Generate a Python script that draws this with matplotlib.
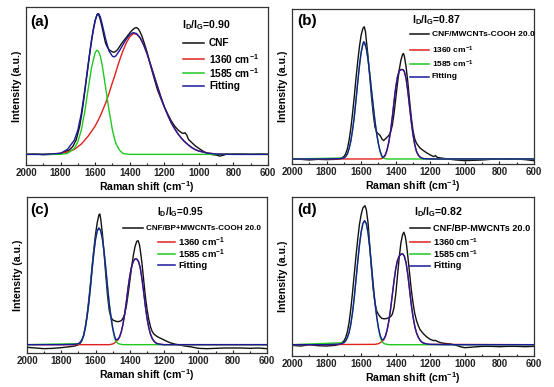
import numpy as np
import matplotlib
matplotlib.use('Agg')
import matplotlib.pyplot as plt
from matplotlib.lines import Line2D
from matplotlib.ticker import MultipleLocator

plt.rcParams['font.family'] = ['Liberation Sans', 'DejaVu Sans']
plt.rcParams['font.weight'] = 'bold'
plt.rcParams['mathtext.default'] = 'regular'

# ---------------- data (Raman shift, intensity a.u.) ----------------
a_raw = [(2000, 27), (1950, 28), (1900, 26), (1850, 27), (1800, 30), (1775, 35), (1750, 40), (1730, 50),
         (1710, 70), (1700, 90), (1690, 110), (1680, 140), (1670, 175), (1660, 215), (1650, 255),
         (1640, 295), (1630, 335), (1620, 370), (1610, 405), (1600, 430), (1590, 445), (1585, 450),
         (1580, 448), (1570, 432), (1560, 410), (1550, 385), (1540, 362), (1530, 350), (1520, 342),
         (1510, 338), (1500, 335), (1490, 334), (1480, 337), (1470, 342), (1460, 350), (1450, 358),
         (1440, 365), (1430, 372), (1420, 378), (1410, 385), (1400, 392), (1390, 398), (1380, 403),
         (1370, 407), (1360, 408), (1350, 404), (1340, 395), (1330, 383), (1320, 368), (1300, 335),
         (1280, 295), (1260, 258), (1240, 222), (1220, 195), (1200, 170), (1180, 148), (1160, 128),
         (1140, 112), (1120, 100), (1100, 92), (1090, 90), (1080, 92), (1070, 85), (1060, 72),
         (1040, 62), (1020, 52), (1000, 45), (980, 38), (960, 32), (940, 28), (920, 26), (900, 25),
         (880, 22), (860, 24), (840, 28), (820, 27), (800, 28), (750, 28), (700, 27), (650, 28), (600, 27)]
a_fit = [(2000, 27), (1900, 27), (1800, 30), (1760, 42), (1720, 70), (1700, 100), (1680, 150), (1660, 220),
         (1640, 300), (1620, 375), (1600, 428), (1590, 446), (1580, 450), (1570, 440), (1560, 420),
         (1540, 375), (1520, 338), (1500, 322), (1490, 320), (1480, 323), (1460, 338), (1440, 356),
         (1420, 373), (1400, 387), (1380, 393), (1360, 390), (1340, 378), (1320, 357), (1300, 330),
         (1280, 298), (1260, 265), (1240, 232), (1220, 200), (1200, 170), (1180, 145), (1160, 122),
         (1140, 104), (1120, 88), (1100, 75), (1080, 64), (1060, 55), (1040, 47), (1020, 41), (1000, 37),
         (950, 31), (900, 28), (800, 27), (700, 27), (600, 27)]
a_G = [(2000, 27), (1800, 27), (1760, 30), (1720, 45), (1700, 65), (1680, 100), (1660, 155), (1640, 225),
       (1620, 290), (1600, 333), (1590, 340), (1580, 336), (1570, 322), (1560, 298), (1540, 230),
       (1520, 160), (1500, 100), (1490, 78), (1480, 60), (1460, 40), (1440, 30), (1420, 28), (1400, 27),
       (600, 27)]
a_D = [(2000, 27), (1900, 27), (1800, 30), (1760, 34), (1720, 42), (1700, 50), (1680, 58), (1660, 70),
       (1640, 82), (1620, 97), (1600, 112), (1590, 122), (1580, 132), (1570, 143), (1560, 155),
       (1540, 180), (1520, 210), (1500, 243), (1490, 258), (1480, 275), (1460, 308), (1440, 337),
       (1420, 362), (1400, 380), (1380, 390), (1360, 388), (1340, 377), (1320, 357), (1300, 330),
       (1280, 298), (1260, 265), (1240, 232), (1220, 200), (1200, 170), (1180, 145), (1160, 122),
       (1140, 104), (1120, 88), (1100, 75), (1080, 64), (1060, 55), (1040, 47), (1020, 41), (1000, 37),
       (950, 31), (900, 28), (800, 27), (700, 27), (600, 27)]

b_raw = [(2000, 15), (1950, 14), (1900, 12), (1850, 14), (1800, 13), (1750, 14), (1720, 16), (1700, 22),
         (1690, 30), (1680, 45), (1670, 70), (1660, 105), (1650, 150), (1640, 200), (1630, 255),
         (1620, 305), (1610, 350), (1600, 385), (1590, 405), (1582, 410), (1575, 395), (1570, 370),
         (1560, 320), (1550, 260), (1540, 200), (1530, 150), (1520, 110), (1510, 95), (1500, 90),
         (1490, 85), (1480, 75), (1470, 70), (1460, 75), (1450, 80), (1440, 85), (1430, 95), (1420, 115),
         (1410, 150), (1400, 195), (1390, 240), (1380, 280), (1370, 310), (1360, 328), (1355, 330),
         (1350, 322), (1340, 290), (1330, 245), (1320, 190), (1310, 140), (1300, 100), (1290, 75),
         (1280, 62), (1270, 55), (1260, 48), (1240, 40), (1220, 33), (1200, 27), (1180, 22), (1170, 25),
         (1160, 20), (1140, 18), (1100, 15), (1050, 12), (1000, 10), (950, 11), (900, 12), (850, 14),
         (800, 15), (750, 14), (700, 15), (650, 13), (600, 10)]
b_fit = [(2000, 15), (1900, 15), (1800, 15), (1720, 16), (1700, 18), (1690, 22), (1680, 30), (1670, 45),
         (1660, 68), (1650, 100), (1640, 140), (1630, 190), (1620, 243), (1610, 293), (1600, 333),
         (1590, 358), (1585, 365), (1580, 362), (1570, 345), (1560, 312), (1550, 268), (1540, 220),
         (1530, 173), (1520, 128), (1510, 90), (1500, 60), (1490, 38), (1480, 24), (1475, 20), (1470, 21),
         (1460, 28), (1450, 42), (1440, 65), (1430, 97), (1420, 138), (1410, 185), (1400, 228),
         (1390, 260), (1380, 278), (1370, 282), (1358, 282), (1350, 276), (1340, 255), (1330, 218),
         (1320, 172), (1310, 126), (1300, 88), (1290, 58), (1280, 38), (1270, 27), (1260, 21), (1250, 18),
         (1240, 16), (1200, 15), (1100, 15), (1000, 15), (800, 15), (600, 15)]
b_G = [(2000, 15), (1700, 18), (1690, 22), (1680, 30), (1670, 45), (1660, 68), (1650, 100), (1640, 140),
       (1630, 190), (1620, 243), (1610, 293), (1600, 333), (1590, 358), (1585, 365), (1580, 362),
       (1570, 345), (1560, 312), (1550, 268), (1540, 220), (1530, 173), (1520, 128), (1510, 90),
       (1500, 60), (1490, 36), (1480, 21), (1470, 17), (1460, 16), (1450, 15), (600, 15)]
b_D = [(2000, 15), (1500, 15), (1480, 16), (1470, 19), (1460, 26), (1450, 42), (1440, 65), (1430, 97),
       (1420, 138), (1410, 185), (1400, 228), (1390, 260), (1380, 278), (1370, 282), (1358, 282),
       (1350, 276), (1340, 255), (1330, 218), (1320, 172), (1310, 126), (1300, 88), (1290, 58),
       (1280, 38), (1270, 27), (1260, 21), (1250, 18), (1240, 16), (1200, 15), (600, 15)]

c_raw = [(2000, 10), (1950, 8), (1900, 6), (1850, 7), (1800, 9), (1750, 12), (1720, 14), (1700, 18),
         (1690, 22), (1680, 30), (1670, 45), (1660, 70), (1650, 105), (1640, 150), (1630, 200),
         (1620, 255), (1610, 305), (1600, 350), (1590, 385), (1580, 408), (1575, 410), (1570, 395),
         (1560, 350), (1550, 290), (1540, 225), (1530, 165), (1520, 120), (1510, 100), (1500, 92),
         (1490, 90), (1480, 88), (1470, 87), (1460, 88), (1450, 90), (1440, 97), (1430, 110), (1420, 135),
         (1410, 170), (1400, 210), (1390, 250), (1380, 285), (1370, 312), (1360, 328), (1352, 330),
         (1345, 320), (1340, 305), (1330, 265), (1320, 215), (1310, 165), (1300, 125), (1290, 95),
         (1280, 72), (1270, 58), (1260, 50), (1240, 42), (1220, 37), (1200, 32), (1180, 27), (1160, 23),
         (1140, 20), (1120, 18), (1100, 16), (1080, 14), (1050, 12), (1020, 9), (1000, 7), (950, 6),
         (900, 7), (850, 8), (800, 8), (750, 8), (700, 7), (650, 8), (600, 6)]
c_fit = [(2000, 18), (1900, 18), (1800, 18), (1720, 19), (1700, 21), (1690, 25), (1680, 32), (1670, 45),
         (1660, 68), (1650, 100), (1640, 140), (1630, 190), (1620, 245), (1610, 295), (1600, 335),
         (1590, 360), (1580, 368), (1570, 360), (1560, 335), (1550, 295), (1540, 245), (1530, 190),
         (1520, 140), (1510, 100), (1500, 68), (1490, 45), (1482, 33), (1470, 34), (1460, 42), (1450, 57),
         (1440, 80), (1430, 110), (1420, 148), (1410, 190), (1400, 225), (1390, 252), (1380, 268),
         (1370, 275), (1360, 275), (1350, 268), (1340, 250), (1330, 218), (1320, 178), (1310, 135),
         (1300, 98), (1290, 70), (1280, 50), (1270, 37), (1260, 29), (1250, 24), (1240, 21), (1220, 19),
         (1200, 18), (1100, 18), (1000, 18), (800, 18), (600, 18)]
c_G = [(2000, 18), (1700, 21), (1690, 25), (1680, 32), (1670, 45), (1660, 68), (1650, 100), (1640, 140),
       (1630, 190), (1620, 245), (1610, 295), (1600, 335), (1590, 360), (1580, 368), (1570, 360),
       (1560, 335), (1550, 295), (1540, 245), (1530, 190), (1520, 140), (1510, 100), (1500, 66),
       (1490, 40), (1482, 28), (1470, 22), (1460, 20), (1450, 19), (1440, 18), (600, 18)]
c_D = [(2000, 18), (1520, 18), (1500, 20), (1490, 23), (1482, 27), (1470, 32), (1460, 40), (1450, 56),
       (1440, 80), (1430, 110), (1420, 148), (1410, 190), (1400, 225), (1390, 252), (1380, 268),
       (1370, 275), (1360, 275), (1350, 268), (1340, 250), (1330, 218), (1320, 178), (1310, 135),
       (1300, 98), (1290, 70), (1280, 50), (1270, 37), (1260, 29), (1250, 24), (1240, 21), (1220, 19),
       (1200, 18), (600, 18)]

d_raw = [(2000, 32), (1950, 30), (1900, 34), (1850, 31), (1800, 30), (1750, 32), (1720, 36), (1700, 45),
         (1690, 55), (1680, 72), (1670, 100), (1660, 140), (1650, 190), (1640, 245), (1630, 300),
         (1620, 350), (1610, 395), (1600, 425), (1590, 445), (1578, 452), (1570, 440), (1560, 400),
         (1550, 330), (1540, 260), (1530, 200), (1520, 160), (1510, 135), (1500, 125), (1490, 118),
         (1480, 113), (1470, 112), (1460, 112), (1450, 113), (1440, 115), (1430, 118), (1420, 125),
         (1410, 145), (1400, 185), (1390, 240), (1380, 295), (1370, 340), (1360, 365), (1353, 372),
         (1345, 360), (1340, 345), (1330, 300), (1320, 250), (1310, 200), (1300, 160), (1290, 128),
         (1280, 107), (1270, 92), (1260, 80), (1240, 67), (1220, 57), (1200, 50), (1180, 46), (1170, 47),
         (1160, 44), (1140, 40), (1120, 38), (1100, 37), (1080, 36), (1050, 32), (1020, 27), (1000, 25),
         (950, 27), (900, 29), (850, 29), (800, 28), (750, 29), (700, 29), (650, 28), (600, 29)]
d_fit = [(2000, 34), (1900, 34), (1800, 34), (1720, 36), (1700, 40), (1690, 45), (1680, 55), (1670, 70),
         (1660, 95), (1650, 130), (1640, 175), (1630, 228), (1620, 282), (1610, 333), (1600, 372),
         (1590, 398), (1580, 407), (1570, 398), (1560, 370), (1550, 325), (1540, 270), (1530, 212),
         (1520, 160), (1510, 118), (1500, 85), (1490, 62), (1480, 49), (1470, 50), (1460, 60), (1450, 78),
         (1440, 105), (1430, 140), (1420, 182), (1410, 225), (1400, 262), (1390, 287), (1380, 300),
         (1370, 306), (1360, 307), (1350, 300), (1340, 280), (1330, 245), (1320, 200), (1310, 155),
         (1300, 118), (1290, 90), (1280, 70), (1270, 57), (1260, 48), (1250, 42), (1240, 39), (1220, 36),
         (1200, 35), (1100, 34), (1000, 34), (800, 34), (600, 34)]
d_G = [(2000, 34), (1700, 40), (1690, 45), (1680, 55), (1670, 70), (1660, 95), (1650, 130), (1640, 175),
       (1630, 228), (1620, 282), (1610, 333), (1600, 372), (1590, 398), (1580, 407), (1570, 398),
       (1560, 370), (1550, 325), (1540, 270), (1530, 212), (1520, 160), (1510, 118), (1500, 83),
       (1490, 58), (1480, 44), (1470, 38), (1460, 36), (1450, 35), (1440, 34), (600, 34)]
d_D = [(2000, 34), (1520, 35), (1500, 37), (1490, 40), (1480, 43), (1470, 48), (1460, 58), (1450, 76),
       (1440, 104), (1430, 140), (1420, 182), (1410, 225), (1400, 262), (1390, 287), (1380, 300),
       (1370, 306), (1360, 307), (1350, 300), (1340, 280), (1330, 245), (1320, 200), (1310, 155),
       (1300, 118), (1290, 90), (1280, 70), (1270, 57), (1260, 48), (1250, 42), (1240, 39), (1220, 36),
       (1200, 35), (600, 34)]

panel_tags = ['(a)', '(b)', '(c)', '(d)']
ratios = ['0.90', '0.87', '0.95', '0.82']
sample_names = ['CNF', 'CNF/MWCNTs-COOH 20.0', 'CNF/BP+MWCNTs-COOH 20.0', 'CNF/BP-MWCNTs 20.0']
comp_labels = ['1360 cm$^{-1}$', '1585 cm$^{-1}$', 'Fitting']
x_ticks = [2000, 1800, 1600, 1400, 1200, 1000, 800, 600]

# ---------------- styling ----------------
W, H = 554, 387
fig = plt.figure(figsize=(W / 100, H / 100), dpi=100)
C_RAW, C_D, C_G, C_FIT = '#111111', '#e0201c', '#20c820', '#1a1a9c'

def px_axes(l, t, r, b):
    return fig.add_axes([l / W, 1 - b / H, (r - l) / W, (b - t) / H])

def fx(x):
    return x / W

def fy(y):
    return 1 - y / H

panels = [
    dict(box=(26, 7, 268, 165), ylim=(-5, 470), raw=a_raw, fit=a_fit, G=a_G, D=a_D,
         tag=(30, 22), ratio=(182, 25, 7.6),
         rows=[(183, 204, 209, 43, 7.3), (183, 204, 209, 59, 7.3), (183, 204, 209, 73, 7.3), (183, 204, 209, 86, 7.3)]),
    dict(box=(292, 9, 534, 164), ylim=(0, 463), raw=b_raw, fit=b_fit, G=b_G, D=b_D,
         tag=(297, 21), ratio=(412, 20, 7.6),
         rows=[(410, 429, 432, 34, 6.0), (410, 429, 432, 50, 6.0), (410, 429, 432, 64, 6.0), (410, 429, 432, 77, 6.0)]),
    dict(box=(27, 197, 267, 353), ylim=(-7, 461), raw=c_raw, fit=c_fit, G=c_G, D=c_D,
         tag=(30, 210), ratio=(157, 212, 7.2),
         rows=[(123, 143, 146, 228, 5.9), (158, 175, 178, 242, 6.8), (158, 175, 178, 254, 6.8), (158, 175, 178, 265, 6.8)]),
    dict(box=(292, 197, 534, 356), ylim=(0, 478), raw=d_raw, fit=d_fit, G=d_G, D=d_D,
         tag=(297, 210), ratio=(414, 212, 7.6),
         rows=[(410, 430, 433, 228, 6.6), (410, 430, 433, 242, 6.6), (410, 430, 433, 254, 6.6), (410, 430, 433, 266, 6.6)]),
]

for i, p in enumerate(panels):
    ax = px_axes(*p['box'])
    raw = np.array(p['raw'], dtype=float)
    fit = np.array(p['fit'], dtype=float)
    G = np.array(p['G'], dtype=float)
    D = np.array(p['D'], dtype=float)
    ax.plot(raw[:, 0], raw[:, 1], color=C_RAW, lw=1.0, zorder=2)
    ax.plot(D[:, 0], D[:, 1], color=C_D, lw=1.0, zorder=3)
    ax.plot(G[:, 0], G[:, 1], color=C_G, lw=1.0, zorder=3)
    ax.plot(fit[:, 0], fit[:, 1], color=C_FIT, lw=1.0, zorder=4)
    ax.set_xlim(2000, 600)
    ax.set_ylim(*p['ylim'])
    ax.set_xticks(x_ticks)
    ax.xaxis.set_minor_locator(MultipleLocator(100))
    ax.tick_params(axis='x', which='both', direction='in', labelsize=7, pad=2, width=0.8, colors='#222222')
    ax.tick_params(axis='x', which='major', length=2.5)
    ax.tick_params(axis='x', which='minor', length=1.5)
    ax.set_yticks([])
    for s in ax.spines.values():
        s.set_linewidth(0.9)
        s.set_color('#333333')
    ax.set_xlabel('Raman shift (cm$^{-1}$)', fontsize=7.6, fontweight='bold', labelpad=1)
    ax.set_ylabel('Intensity (a.u.)', fontsize=7.6, fontweight='bold', labelpad=3)

    # panel tag
    tx, ty = p['tag']
    fig.text(fx(tx), fy(ty), panel_tags[i], fontsize=11, fontweight='bold', ha='left', va='center')
    # ratio text
    rx, ry, rs = p['ratio']
    fig.text(fx(rx), fy(ry), 'I$_D$/I$_G$=' + ratios[i], fontsize=rs, fontweight='bold', ha='left', va='center')
    # legend rows
    labels = [sample_names[i]] + comp_labels
    colors = [C_RAW, C_D, C_G, C_FIT]
    for (x0, x1, xt, yr, fs), lab, col in zip(p['rows'], labels, colors):
        fig.add_artist(Line2D([fx(x0), fx(x1)], [fy(yr), fy(yr)], transform=fig.transFigure, color=col, lw=1.1))
        fig.text(fx(xt), fy(yr), lab, fontsize=fs, fontweight='bold', ha='left', va='center')

fig.savefig('out.png', dpi=100)
